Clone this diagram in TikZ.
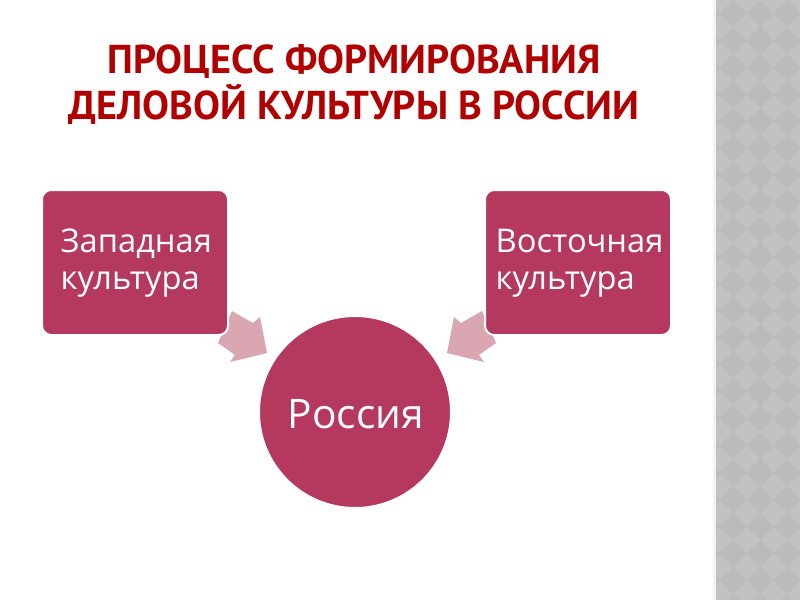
\documentclass[tikz,border=0pt]{standalone}
\usepackage{fontspec}
\setmainfont{Open Sans}
\newfontfamily\titlefont{PT Sans}
\definecolor{boxfill}{HTML}{B5395F}
\definecolor{arrowfill}{HTML}{D9A6B2}
\definecolor{titlered}{HTML}{B00000}
\definecolor{stripbase}{HTML}{C2C2C2}
\definecolor{stripdark}{HTML}{BBBBBB}
\tikzset{
  culturebox/.style={draw=white, line width=1.5pt, fill=boxfill, rounded corners=7pt},
  blockarrow/.style={fill=arrowfill, draw=none},
  boxtext/.style={text=white, font=\fontsize{24.5}{28}\selectfont, align=left},
}
\begin{document}
\begin{tikzpicture}[x=0.75pt,y=-0.75pt]
\useasboundingbox (0,0) rectangle (800,600);
\fill[white] (0,0) rectangle (800,600);
% decorative strip
\begin{scope}
\clip (713,0) rectangle (800,600);
\fill[stripbase] (713,0) rectangle (800,600);
\foreach \i in {-1,...,3}{
  \foreach \j in {-1,...,23}{
    \fill[stripdark] ({733+27*\i},{13.5+27*\j-13.5}) -- ({733+27*\i+13.5},{13.5+27*\j}) -- ({733+27*\i},{13.5+27*\j+13.5}) -- ({733+27*\i-13.5},{13.5+27*\j}) -- cycle;
  }
}
\end{scope}
\fill[white!80!stripbase] (713,0) rectangle (716,600);
% title
\node[text=titlered, font=\titlefont\bfseries\fontsize{30.2}{34.5}\selectfont, align=center] (title) at (354,85) {ПРОЦЕСС ФОРМИРОВАНИЯ\\ДЕЛОВОЙ КУЛЬТУРЫ В РОССИИ};
% arrows
\fill[blockarrow] (232,311) -- (253,323) -- (260,317) -- (267,353) -- (230,362) -- (235,355) -- (218,343) -- cycle;
\fill[blockarrow] (482,311) -- (461,323) -- (454,317) -- (447,353) -- (484,362) -- (479,355) -- (496,343) -- cycle;
% boxes
\draw[culturebox] (42,190) rectangle (228,335);
\draw[culturebox] (485,190) rectangle (671,335);
\node[boxtext, anchor=west] (west) at (56,263) {Западная\\культура};
\node[boxtext, anchor=west] (east) at (491,263) {Восточная\\культура};
% circle
\draw[draw=white, line width=1.5pt, fill=boxfill] (355,412) circle (96);
\node[text=white, font=\fontsize{30.5}{34}\selectfont] (russia) at (356,414) {Россия};
\end{tikzpicture}
\end{document}
